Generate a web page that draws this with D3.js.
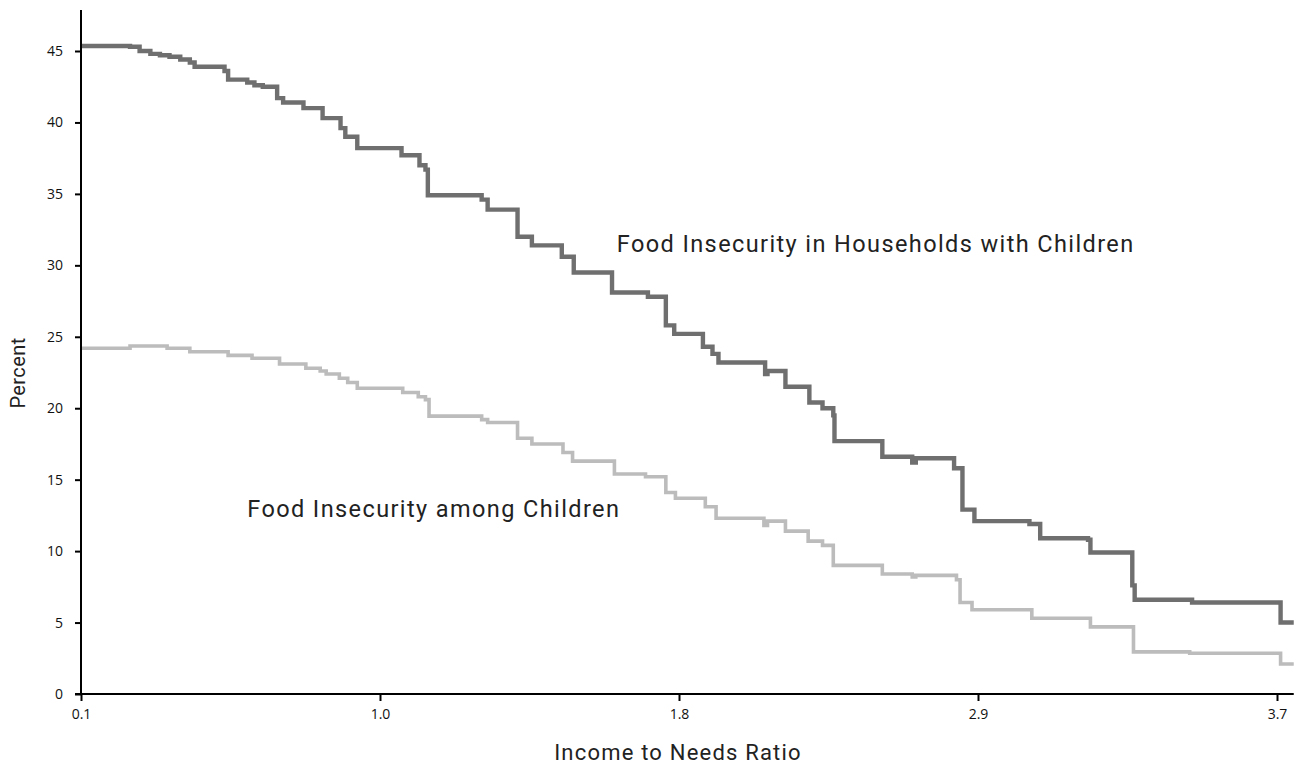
<!DOCTYPE html>
<html>
<head>
<meta charset="utf-8">
<script src="https://cdn.jsdelivr.net/npm/d3@7"></script>
<style>
  html, body { margin: 0; padding: 0; background: #fff; }
  svg { display: block; }
</style>
</head>
<body>
<svg id="chart" width="1296" height="769"></svg>
<script>
// X positions are percentiles of the income-to-needs distribution (ticks every 25%)
const xTickPositions = [0, 25, 50, 75, 100];
const xTickLabels = ["0.1", "1.0", "1.8", "2.9", "3.7"];
const yTicks = [0, 5, 10, 15, 20, 25, 30, 35, 40, 45];

// Food insecurity in households with children: [percentile, percent] steps
const householdPct = [0.0,4.1,4.9,5.8,6.6,7.4,8.3,9.1,9.5,12.0,12.3,13.9,14.5,15.2,16.4,16.9,18.6,20.2,21.7,22.1,23.1,26.8,28.3,28.8,29.0,33.5,34.0,36.5,37.7,40.2,41.2,44.4,47.4,48.9,49.6,52.0,52.8,53.3,57.2,57.4,58.9,60.9,62.0,62.9,63.0,67.0,69.5,69.8,73.0,73.7,74.7,79.3,80.2,84.2,84.4,87.9,88.1,92.9,100.3,101.4];
const householdVal = [45.35,45.3,45.0,44.8,44.7,44.6,44.4,44.2,43.9,43.6,43.0,42.8,42.6,42.5,41.7,41.4,41.0,40.3,39.6,39.0,38.2,37.7,37.0,36.7,34.9,34.6,33.9,32.0,31.4,30.6,29.5,28.1,27.8,25.8,25.2,24.3,23.8,23.2,22.4,22.6,21.5,20.4,20.0,19.5,17.7,16.6,16.2,16.5,15.8,12.9,12.1,11.9,10.9,10.8,9.9,7.6,6.6,6.4,5.0,5.0];

// Food insecurity among children
const childPct = [0.0,4.1,7.2,9.1,12.3,14.3,16.6,18.8,20.0,20.5,21.6,22.3,23.1,26.9,28.2,28.8,29.1,33.5,34.0,36.5,37.7,40.3,41.1,44.6,47.2,48.9,49.7,52.2,53.1,57.1,57.4,58.9,60.8,62.0,62.9,67.0,69.5,69.8,73.2,73.5,74.5,79.5,84.4,88.0,92.7,100.3,101.4];
const childVal = [24.2,24.35,24.2,23.95,23.7,23.5,23.1,22.8,22.6,22.4,22.1,21.8,21.4,21.1,20.8,20.6,19.45,19.2,19.0,17.9,17.5,16.9,16.3,15.4,15.2,14.1,13.7,13.1,12.3,11.8,12.1,11.4,10.7,10.4,9.0,8.4,8.2,8.3,8.0,6.4,5.9,5.3,4.7,2.95,2.85,2.1,2.1];

const svg = d3.select("#chart");
const x = d3.scaleLinear().domain([0, 100]).range([81, 1277]);
const y = d3.scaleLinear().domain([0, 45]).range([694, 51]);
const xMax = 101.4;
const yTop = y.invert(10);

const titleFont = "Roboto, 'Liberation Sans', sans-serif";
const tickFont = "'Open Sans', 'Liberation Sans', sans-serif";

// lines
const line = d3.line().x(d => x(d[0])).y(d => y(d[1])).curve(d3.curveStepAfter);
const hh = householdPct.map((p, i) => [p, householdVal[i]]);
const ch = childPct.map((p, i) => [p, childVal[i]]);

svg.append("path").datum(ch).attr("d", line)
  .attr("fill", "none").attr("stroke", "#bcbcbc").attr("stroke-width", 3.6);
svg.append("path").datum(hh).attr("d", line)
  .attr("fill", "none").attr("stroke", "#6f6f6f").attr("stroke-width", 4.4);

// y axis
const yAxis = d3.axisLeft(y).tickValues(yTicks).tickSize(6).tickPadding(12);
const gy = svg.append("g").attr("transform", "translate(81,0)").call(yAxis);
gy.select(".domain").remove();
gy.append("line").attr("x1", 0).attr("x2", 0).attr("y1", y(yTop)).attr("y2", y(0))
  .attr("stroke", "#000").attr("stroke-width", 2);
gy.selectAll(".tick line").attr("stroke", "#000").attr("stroke-width", 2);
gy.selectAll(".tick text").attr("fill", "#111")
  .style("font-family", tickFont).style("font-size", "14px");

// x axis
const xAxis = d3.axisBottom(x).tickValues(xTickPositions)
  .tickFormat((d, i) => xTickLabels[i]).tickSize(7).tickPadding(8);
const gx = svg.append("g").attr("transform", "translate(0,694)").call(xAxis);
gx.select(".domain").remove();
gx.append("line").attr("x1", x(0) - 6).attr("x2", x(xMax)).attr("y1", 0).attr("y2", 0)
  .attr("stroke", "#000").attr("stroke-width", 2);
gx.selectAll(".tick line").attr("stroke", "#000").attr("stroke-width", 2);
gx.selectAll(".tick text").attr("fill", "#111")
  .style("font-family", tickFont).style("font-size", "14px");

function label(sel, size, spacing) {
  return sel.attr("fill", "#222")
    .style("font-family", titleFont).style("font-size", size + "px")
    .style("letter-spacing", spacing + "px");
}

// axis titles
label(svg.append("text").attr("transform", "translate(25,373) rotate(-90)")
  .attr("text-anchor", "middle"), 20, 0.4).text("Percent");
label(svg.append("text").attr("x", 678).attr("y", 760)
  .attr("text-anchor", "middle"), 22, 1.2).text("Income to Needs Ratio");

// series labels
label(svg.append("text").attr("x", x(44.8)).attr("y", y(30.9)), 23.5, 1.4)
  .text("Food Insecurity in Households with Children");
label(svg.append("text").attr("x", x(13.9)).attr("y", y(12.4)), 23.5, 1.4)
  .text("Food Insecurity among Children");
</script>
</body>
</html>
